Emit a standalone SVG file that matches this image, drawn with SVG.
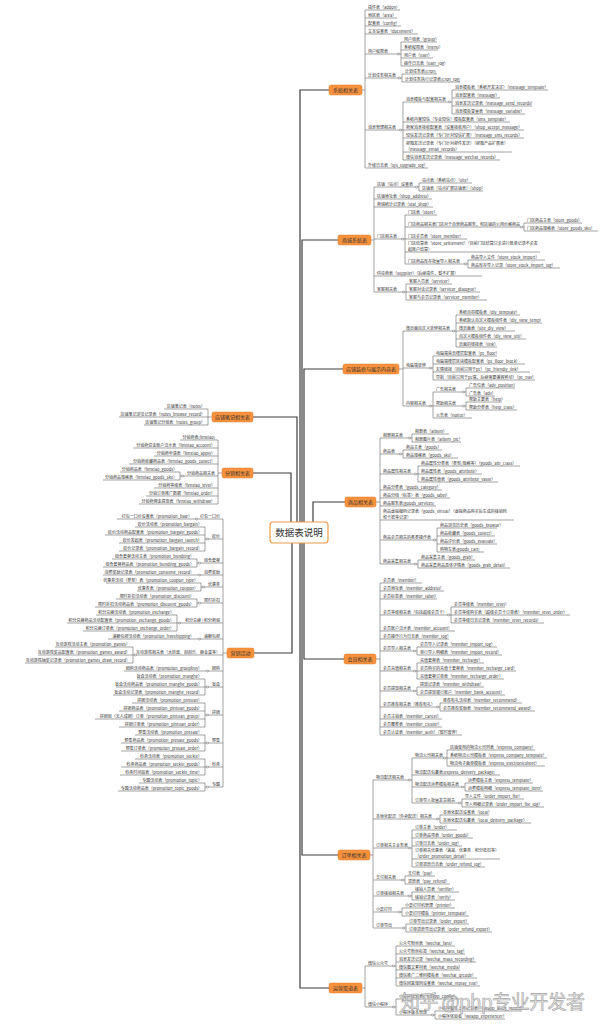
<svg xmlns="http://www.w3.org/2000/svg" width="600" height="1024" viewBox="0 0 600 1024">
<style>
.n text{font-family:"Noto Sans CJK SC","Noto Sans",sans-serif;font-size:4px;fill:#333}
.n path{fill:none;stroke:#666;stroke-width:.6}
.L text{text-anchor:end}
.k{fill:#fff;stroke:#888;stroke-width:.4}
.br{fill:none;stroke:#666;stroke-width:.6}
.m{fill:none;stroke:#3c3c3c;stroke-width:1.2}
.bx rect{fill:#F6913C;stroke:#E47F2C;stroke-width:.5}
.bx text{font-family:"Noto Sans CJK SC","Noto Sans",sans-serif;font-size:5px;fill:#333;text-anchor:middle}
.wm{font-family:"Noto Sans CJK SC","Noto Sans",sans-serif;font-size:19px;fill:#e4e4e4;stroke:#9a9a9a;stroke-width:.6;opacity:.9}
</style>
<rect width="600" height="1024" fill="#fff"/>
<g id="connectors">
<path class="m" d="M300 522V90H329M302 522V240H338M304 522V369H343M313 522V502H345M304 543V659H344M302 543V855H338M300 543V988H329M297 522V417H253M291 522V473H253M292 543V653H254"/>
<path class="br" d="M362 90H365M365 10V168M401 42V66M402 74V82M403 102V160M452 90V114
M371 240H374M374 187V292M419 183V191M405 215V264M524 223V231M468 260V268M406 284V300
M399 369H403M403 331V406M456 315V347M433 356V380M433 392V418M466 388V396M466 402V410
M376 502H380M380 438V564M412 434V442M403 450V458M418 466V482M437 528V552M418 560V568
M376 659H380M380 583V735M451 607V623M417 647V655M417 663V679M417 687V695M440 703V711
M370 855H373M373 780V928M412 758V803M447 750V766M465 783V791M462 799V807M440 815V823M412 830V867M405 876V884M412 892V900M402 908V916M406 924V932
M362 988H365M365 966V1007M396 946V986M396 999V1015M435 1011V1019
M212 417H208M208 409V425
M222 473H218M218 440V504M180 472V480
M227 653H223M223 519V787M205 527V551M197 559V567M201 583V591M197 599V607M177 615V631M133 647V663M205 679V695M205 703V727M205 735V751M205 759V775M205 783V791"/>
<g class="k">
<circle cx="398.5" cy="54" r="1.2"/><circle cx="399.5" cy="78" r="1.2"/><circle cx="400.5" cy="130" r="1.2"/><circle cx="449.5" cy="102" r="1.2"/>
<circle cx="416.5" cy="187" r="1.2"/><circle cx="402.5" cy="239" r="1.2"/><circle cx="521.5" cy="227" r="1.2"/><circle cx="465.5" cy="264" r="1.2"/><circle cx="403.5" cy="292" r="1.2"/>
<circle cx="453.5" cy="331" r="1.2"/><circle cx="430.5" cy="368" r="1.2"/><circle cx="430.5" cy="406" r="1.2"/><circle cx="463.5" cy="392" r="1.2"/><circle cx="463.5" cy="406" r="1.2"/>
<circle cx="409.5" cy="438" r="1.2"/><circle cx="400.5" cy="454" r="1.2"/><circle cx="415.5" cy="474" r="1.2"/><circle cx="434.5" cy="540" r="1.2"/><circle cx="415.5" cy="564" r="1.2"/>
<circle cx="448.5" cy="615" r="1.2"/><circle cx="414.5" cy="651" r="1.2"/><circle cx="414.5" cy="671" r="1.2"/><circle cx="414.5" cy="691" r="1.2"/><circle cx="437.5" cy="707" r="1.2"/>
<circle cx="409.5" cy="780" r="1.2"/><circle cx="444.5" cy="758" r="1.2"/><circle cx="462.5" cy="787" r="1.2"/><circle cx="459.5" cy="803" r="1.2"/><circle cx="437.5" cy="819" r="1.2"/><circle cx="409.5" cy="848" r="1.2"/><circle cx="402.5" cy="880" r="1.2"/><circle cx="409.5" cy="896" r="1.2"/><circle cx="399.5" cy="912" r="1.2"/><circle cx="403.5" cy="928" r="1.2"/>
<circle cx="393.5" cy="966" r="1.2"/><circle cx="393.5" cy="1007" r="1.2"/><circle cx="432.5" cy="1015" r="1.2"/>
<circle cx="182.5" cy="476" r="1.2"/>
<circle cx="196.5" cy="519" r="1.2"/><circle cx="207.5" cy="539" r="1.2"/><circle cx="199.5" cy="563" r="1.2"/><circle cx="199.5" cy="575" r="1.2"/><circle cx="203.5" cy="587" r="1.2"/><circle cx="199.5" cy="603" r="1.2"/><circle cx="179.5" cy="623" r="1.2"/><circle cx="199.5" cy="639" r="1.2"/><circle cx="135.5" cy="655" r="1.2"/><circle cx="207.5" cy="671" r="1.2"/><circle cx="207.5" cy="687" r="1.2"/><circle cx="207.5" cy="715" r="1.2"/><circle cx="207.5" cy="743" r="1.2"/><circle cx="207.5" cy="767" r="1.2"/><circle cx="207.5" cy="787" r="1.2"/>
</g>
</g>
<g id="center"><rect x="270" y="522" width="58" height="21" rx="3" fill="#fff" stroke="#EE9A4A" stroke-width="1.2"/><text x="299" y="535.8" font-family="Noto Sans CJK SC, Noto Sans, sans-serif" font-size="9.5" fill="#333" text-anchor="middle">数据表说明</text></g>
<g class="bx">
<g id="b_sys"><rect x="329" y="85" width="33" height="10" rx="2"/><text x="345.5" y="91.8">系统相关表</text></g>
<g id="b_mall"><rect x="338" y="235" width="33" height="10" rx="2"/><text x="354.5" y="241.8">商城系统表</text></g>
<g id="b_decor"><rect x="343" y="364" width="56" height="10" rx="2"/><text x="371" y="370.8">店铺装修与展示内容表</text></g>
<g id="b_goods"><rect x="345" y="497" width="31" height="10" rx="2"/><text x="360.5" y="503.8">商品相关表</text></g>
<g id="b_member"><rect x="344" y="654" width="32" height="10" rx="2"/><text x="360" y="660.8">会员相关表</text></g>
<g id="b_order"><rect x="338" y="850" width="32" height="10" rx="2"/><text x="354" y="856.8">订单相关表</text></g>
<g id="b_ops"><rect x="329" y="983" width="33" height="10" rx="2"/><text x="345.5" y="989.8">运营渠道表</text></g>
<g id="b_notes"><rect x="212" y="412" width="41" height="10" rx="2"/><text x="232.5" y="418.8">店铺笔记相关表</text></g>
<g id="b_fenxiao"><rect x="222" y="468" width="31" height="10" rx="2"/><text x="237.5" y="474.8">分销相关表</text></g>
<g id="b_promo"><rect x="227" y="648" width="27" height="10" rx="2"/><text x="240.5" y="654.8">营销活动</text></g>
</g>
<g class="n">
<g id="addon"><text x="368" y="8.8">插件表（addon）</text><path d="M365 10H400"/></g>
<g id="area"><text x="368" y="16.8">地区表（area）</text><path d="M365 18H397"/></g>
<g id="config"><text x="368" y="24.8">配置表（config）</text><path d="M365 26H401"/></g>
<g id="document"><text x="368" y="32.8">文本设置表（document）</text><path d="M365 34H418"/></g>
<g id="auth_rel"><text x="368" y="52.8">用户权限表</text><path d="M365 54H401"/></g>
<g id="group"><text x="404" y="40.8">用户组表（group）</text><path d="M401 42H437"/></g>
<g id="menu"><text x="404" y="48.8">系统权限表（menu）</text><path d="M401 50H438"/></g>
<g id="user"><text x="404" y="56.8">用户表（user）</text><path d="M401 58H433"/></g>
<g id="user_log"><text x="404" y="64.8">操作日志表（user_log）</text><path d="M401 66H439"/></g>
<g id="cron_rel"><text x="368" y="76.8">计划任务相关表</text><path d="M365 78H402"/></g>
<g id="cron"><text x="405" y="72.8">计划任务表(cron)</text><path d="M402 74H437"/></g>
<g id="cron_log"><text x="405" y="80.8">计划任务执行记录表(cron_log)</text><path d="M402 82H460"/></g>
<g id="msg_rel"><text x="368" y="128.8">消息管理相关表</text><path d="M365 130H403"/></g>
<g id="msg_tpl_rel"><text x="406" y="100.8">消息模板与配置相关表</text><path d="M403 102H452"/></g>
<g id="message_template"><text x="455" y="88.8">消息模板表（系统开发决定）（message_template）</text><path d="M452 90H548"/></g>
<g id="message"><text x="455" y="96.8">消息配置表（message）</text><path d="M452 98H500"/></g>
<g id="message_send_records"><text x="455" y="104.8">消息发送记录表（message_send_records）</text><path d="M452 106H532"/></g>
<g id="message_variable"><text x="455" y="112.8">消息模板变量表（message_variable）</text><path d="M452 114H525"/></g>
<g id="sms_template"><text x="406" y="120.8">系统内置短信（专业短信）模板配置表（sms_template）</text><path d="M403 122H510"/></g>
<g id="shop_accept_message"><text x="406" y="128.8">商家消息接收配置表（设置接收用户）（shop_accept_message）</text><path d="M403 130H524"/></g>
<g id="message_sms_records"><text x="406" y="136.8">短信发送记录表（专门针对短信扩展）（message_sms_records）</text><path d="M403 138H524"/></g>
<g id="message_email_records"><text x="406" y="144.8">邮箱发送记录表（专门针对邮件发送）（邮箱产品扩展表）</text><text x="406" y="150.8">（message_email_records）</text><path d="M403 152H512"/></g>
<g id="message_wechat_records"><text x="406" y="158.8">微信消息发送记录表（message_wechat_records）</text><path d="M403 160H500"/></g>
<g id="sys_upgrade_log"><text x="368" y="166.8">升级日志表（sys_upgrade_log）</text><path d="M365 168H428"/></g>

<g id="shop_set"><text x="377" y="185.8">店铺（站点）设置表</text><path d="M374 187H419"/></g>
<g id="site"><text x="422" y="181.8">站点表（系统站点）（site）</text><path d="M419 183H472"/></g>
<g id="shop"><text x="422" y="189.8">店铺表（站点扩展店铺表）（shop）</text><path d="M419 191H483"/></g>
<g id="shop_address"><text x="377" y="197.8">店铺地址表（shop_address）</text><path d="M374 199H432"/></g>
<g id="stat_shop"><text x="377" y="205.8">商城统计记录表（stat_shop）</text><path d="M374 207H433"/></g>
<g id="store_rel"><text x="377" y="237.8">门店相关表</text><path d="M374 239H405"/></g>
<g id="store"><text x="408" y="213.8">门店表（store）</text><path d="M405 215H437"/></g>
<g id="store_goods_rel"><text x="408" y="225.8">门店商品相关表门店对于自营商品服务，和店铺的公用价格商品</text><path d="M405 227H524"/></g>
<g id="store_goods"><text x="527" y="221.8">门店商品主表（store_goods）</text><path d="M524 223H582"/></g>
<g id="store_goods_sku"><text x="527" y="229.8">门店商品规格表（store_goods_sku）</text><path d="M524 231H598"/></g>
<g id="store_member"><text x="408" y="237.8">门店会员表（store_member）</text><path d="M405 239H467"/></g>
<g id="store_settlement"><text x="408" y="244.8">门店结算表（store_settlement）（目前门店结算只会进行账单记录不会发</text><text x="408" y="250.8">起账户结算）</text><path d="M405 252H540"/></g>
<g id="stock_import_rel"><text x="408" y="262.8">门店商品库存批量导入相关表</text><path d="M405 264H468"/></g>
<g id="store_stock_import"><text x="471" y="258.8">商品导入文件（store_stock_import）</text><path d="M468 260H545"/></g>
<g id="store_stock_import_log"><text x="471" y="266.8">商品库存导入记录（store_stock_import_log）</text><path d="M468 268H560"/></g>
<g id="supplier"><text x="377" y="274.8">供应商表（supplier）（后续插件，暂不扩展）</text><path d="M374 276H482"/></g>
<g id="service_rel"><text x="377" y="290.8">客服相关表</text><path d="M374 292H406"/></g>
<g id="servicer"><text x="409" y="282.8">客服人员表（servicer）</text><path d="M406 284H452"/></g>
<g id="servicer_dialogue"><text x="409" y="290.8">客服对话记录表（servicer_dialogue）</text><path d="M406 292H480"/></g>
<g id="servicer_member"><text x="409" y="298.8">客服与会员记录表（servicer_member）</text><path d="M406 300H487"/></g>

<g id="diy_rel"><text x="406" y="329.8">微页面自定义装修相关表</text><path d="M403 331H456"/></g>
<g id="diy_template"><text x="459" y="313.8">系统自带模板表（diy_template）</text><path d="M456 315H520"/></g>
<g id="diy_view_temp"><text x="459" y="321.8">系统默认自定义模板组件表（diy_view_temp）</text><path d="M456 323H542"/></g>
<g id="site_diy_view"><text x="459" y="329.8">微页面表（site_diy_view）</text><path d="M456 331H515"/></g>
<g id="diy_view_util"><text x="459" y="337.8">自定义模板组件表（diy_view_util）</text><path d="M456 339H526"/></g>
<g id="link"><text x="459" y="345.8">页面的链接表（link）</text><path d="M456 347H497"/></g>
<g id="pc_rel"><text x="406" y="366.8">电脑端装修</text><path d="M403 368H433"/></g>
<g id="pc_floor"><text x="436" y="354.8">电脑端首页楼层配置表（pc_floor）</text><path d="M433 356H497"/></g>
<g id="pc_floor_block"><text x="436" y="362.8">电脑端楼层区块模板配置表（pc_floor_block）</text><path d="M433 364H525"/></g>
<g id="pc_friendly_link"><text x="436" y="370.8">友情链接（目前只用于pc）（pc_friendly_link）</text><path d="M433 372H530"/></g>
<g id="pc_nav"><text x="436" y="378.8">导航（目前只用于pc端，后续需要兼容移动）（pc_nav）</text><path d="M433 380H535"/></g>
<g id="content_rel"><text x="406" y="404.8">内容相关表</text><path d="M403 406H433"/></g>
<g id="adv_rel"><text x="436" y="390.8">广告相关表</text><path d="M433 392H466"/></g>
<g id="adv_position"><text x="469" y="386.8">广告位表（adv_position）</text><path d="M466 388H515"/></g>
<g id="adv"><text x="469" y="394.8">广告表（adv）</text><path d="M466 396H495"/></g>
<g id="help_rel"><text x="436" y="404.8">帮助相关表</text><path d="M433 406H466"/></g>
<g id="help"><text x="469" y="400.8">帮助主要表（help）</text><path d="M466 402H502"/></g>
<g id="help_class"><text x="469" y="408.8">帮助分类表（help_class）</text><path d="M466 410H517"/></g>
<g id="notice"><text x="436" y="416.8">公告表（notice）</text><path d="M433 418H472"/></g>

<g id="album_rel"><text x="383" y="436.8">相册相关表</text><path d="M380 438H412"/></g>
<g id="album"><text x="415" y="432.8">相册表（album）</text><path d="M412 434H449"/></g>
<g id="album_pic"><text x="415" y="440.8">相册图片表（album_pic）</text><path d="M412 442H461"/></g>
<g id="goods_rel"><text x="383" y="452.8">商品表</text><path d="M380 454H403"/></g>
<g id="goods"><text x="406" y="448.8">商品主表（goods）</text><path d="M403 450H442"/></g>
<g id="goods_sku"><text x="406" y="456.8">商品规格表（goods_sku）</text><path d="M403 458H458"/></g>
<g id="attr_rel"><text x="383" y="472.8">商品属性相关表</text><path d="M380 474H418"/></g>
<g id="goods_attr_class"><text x="421" y="464.8">商品属性分类表（类型/规格等）（goods_attr_class）</text><path d="M418 466H520"/></g>
<g id="goods_attribute"><text x="421" y="472.8">商品属性表（goods_attribute）</text><path d="M418 474H482"/></g>
<g id="goods_attribute_value"><text x="421" y="480.8">商品属性值表（goods_attribute_value）</text><path d="M418 482H498"/></g>
<g id="goods_category"><text x="383" y="488.8">商品分类表（goods_category）</text><path d="M380 490H442"/></g>
<g id="goods_label"><text x="383" y="496.8">商品分组（标签）表（goods_label）</text><path d="M380 498H450"/></g>
<g id="goods_services"><text x="383" y="504.8">商品服务表(goods_services)</text><path d="M380 506H436"/></g>
<g id="goods_virtual"><text x="383" y="512.8">商品虚拟编码记录表（goods_virtual）（虚拟商品购买后生成的核销码</text><text x="383" y="518.8">和卡密等记录）</text><path d="M380 520H514"/></g>
<g id="member_op_rel"><text x="383" y="538.8">商品会员相关的各类操作表</text><path d="M380 540H437"/></g>
<g id="goods_browse"><text x="440" y="526.8">商品浏览历史表（goods_browse）</text><path d="M437 528H497"/></g>
<g id="goods_collect"><text x="440" y="534.8">商品收藏表（goods_collect）</text><path d="M437 536H495"/></g>
<g id="goods_evaluate"><text x="440" y="542.8">商品评价表（goods_evaluate）</text><path d="M437 544H497"/></g>
<g id="goods_cart"><text x="440" y="550.8">购物车表(goods_cart)</text><path d="M437 552H484"/></g>
<g id="grab_rel"><text x="383" y="562.8">商品采集相关表</text><path d="M380 564H418"/></g>
<g id="goods_grab"><text x="421" y="558.8">商品采集主表（goods_grab）</text><path d="M418 560H475"/></g>
<g id="goods_grab_detail"><text x="421" y="566.8">商品采集商品具体详情表（goods_grab_detail）</text><path d="M418 568H510"/></g>

<g id="member"><text x="383" y="581.8">会员表（member）</text><path d="M380 583H422"/></g>
<g id="member_address"><text x="383" y="589.8">会员地址表（member_address）</text><path d="M380 591H444"/></g>
<g id="member_label"><text x="383" y="597.8">会员标签表（member_label）</text><path d="M380 599H437"/></g>
<g id="level_rel"><text x="383" y="613.8">会员等级相关表（包括超级会员卡）</text><path d="M380 615H451"/></g>
<g id="member_level"><text x="454" y="605.8">会员等级表（member_level）</text><path d="M451 607H505"/></g>
<g id="member_level_order"><text x="454" y="613.8">会员等级购买表（超级会员卡订单表）（member_level_order）</text><path d="M451 615H570"/></g>
<g id="member_level_records"><text x="454" y="621.8">会员等级日志记录表（member_level_records）</text><path d="M451 623H544"/></g>
<g id="member_account"><text x="383" y="629.8">会员账户流水表（member_account）</text><path d="M380 631H455"/></g>
<g id="member_log"><text x="383" y="637.8">会员操作行为日志表（member_log）</text><path d="M380 639H449"/></g>
<g id="import_rel"><text x="383" y="649.8">会员导入相关表</text><path d="M380 651H417"/></g>
<g id="member_import_log"><text x="420" y="645.8">会员导入记录表（member_import_log）</text><path d="M417 647H497"/></g>
<g id="member_import_record"><text x="420" y="653.8">单行导入明细表（member_import_record）</text><path d="M417 655H502"/></g>
<g id="recharge_rel"><text x="383" y="669.8">会员充值相关表</text><path d="M380 671H417"/></g>
<g id="member_recharge"><text x="420" y="661.8">充值套餐表（member_recharge）</text><path d="M417 663H484"/></g>
<g id="member_recharge_card"><text x="420" y="669.8">会员购买的充值卡套餐表（member_recharge_card）</text><path d="M417 671H516"/></g>
<g id="member_recharge_order"><text x="420" y="677.8">充值套餐订单表（member_recharge_order）</text><path d="M417 679H504"/></g>
<g id="withdraw_rel"><text x="383" y="689.8">会员提现相关表</text><path d="M380 691H417"/></g>
<g id="member_withdraw"><text x="420" y="685.8">提现记录表（member_withdraw）</text><path d="M417 687H484"/></g>
<g id="member_bank_account"><text x="420" y="693.8">会员提现银行账户（member_bank_account）</text><path d="M417 695H505"/></g>
<g id="recommend_rel"><text x="383" y="705.8">会员推荐相关表（推荐有礼）</text><path d="M380 707H440"/></g>
<g id="member_recommend"><text x="443" y="701.8">推荐有礼活动表（member_recommend）</text><path d="M440 703H522"/></g>
<g id="member_recommend_award"><text x="443" y="709.8">会员推荐奖励表（member_recommend_award）</text><path d="M440 711H535"/></g>
<g id="member_cancel"><text x="383" y="717.8">会员注销表（member_cancel）</text><path d="M380 719H442"/></g>
<g id="member_cluster"><text x="383" y="725.8">会员聚类表（member_cluster）</text><path d="M380 727H442"/></g>
<g id="member_auth"><text x="383" y="733.8">会员认证表（member_auth）（暂时废弃）</text><path d="M380 735H462"/></g>

<g id="logistics_rel"><text x="376" y="778.8">物流配送相关表</text><path d="M373 780H412"/></g>
<g id="company_rel"><text x="415" y="756.8">物流公司相关表</text><path d="M412 758H447"/></g>
<g id="express_company"><text x="450" y="748.8">店铺使用的物流公司列表（express_company）</text><path d="M447 750H535"/></g>
<g id="express_company_template"><text x="450" y="756.8">系统物流公司模板表（express_company_template）</text><path d="M447 758H547"/></g>
<g id="express_electronicsheet"><text x="450" y="764.8">物流电子面单模板表（express_electronicsheet）</text><path d="M447 766H545"/></g>
<g id="express_delivery_package"><text x="415" y="773.8">物流配送包裹表(express_delivery_package)</text><path d="M412 775H500"/></g>
<g id="tpl_rel"><text x="415" y="785.8">物流配送运费模板相关表</text><path d="M412 787H465"/></g>
<g id="express_template"><text x="468" y="781.8">运费模板主表（express_template）</text><path d="M465 783H533"/></g>
<g id="express_template_item"><text x="468" y="789.8">运费模板明细（express_template_item）</text><path d="M465 791H543"/></g>
<g id="order_import_rel"><text x="415" y="801.8">订单导入批量发货相关</text><path d="M412 803H462"/></g>
<g id="order_import_file"><text x="465" y="797.8">导入文件（order_import_file）</text><path d="M462 799H524"/></g>
<g id="order_import_file_log"><text x="465" y="805.8">导入明细记录表（order_import_file_log）</text><path d="M462 807H544"/></g>
<g id="local_rel"><text x="376" y="817.8">本地化配送（外卖配送）相关表</text><path d="M373 819H440"/></g>
<g id="local"><text x="443" y="813.8">本地化配送设置表（local）</text><path d="M440 815H489"/></g>
<g id="local_delivery_package"><text x="443" y="821.8">本地化配送包裹表（local_delivery_package）</text><path d="M440 823H531"/></g>
<g id="order_rel"><text x="376" y="846.8">订单相关主业务表</text><path d="M373 848H412"/></g>
<g id="order"><text x="415" y="828.8">订单主表（order）</text><path d="M412 830H457"/></g>
<g id="order_goods"><text x="415" y="836.8">订单商品项表（order_goods）</text><path d="M412 838H473"/></g>
<g id="order_log"><text x="415" y="844.8">订单日志表（order_log）</text><path d="M412 846H462"/></g>
<g id="order_promotion_detail"><text x="415" y="851.8">订单相关优惠表（满减、优惠券、积分抵扣等）</text><text x="415" y="857.8">（order_promotion_detail）</text><path d="M412 859H500"/></g>
<g id="order_refund_log"><text x="415" y="865.8">订单退款日志表（order_refund_log）</text><path d="M412 867H485"/></g>
<g id="pay_rel"><text x="376" y="878.8">支付相关表</text><path d="M373 880H405"/></g>
<g id="pay"><text x="408" y="874.8">支付表（pay）</text><path d="M405 876H435"/></g>
<g id="pay_refund"><text x="408" y="882.8">退款表（pay_refund）</text><path d="M405 884H450"/></g>
<g id="verify_rel"><text x="376" y="894.8">订单核销相关表</text><path d="M373 896H412"/></g>
<g id="verifier"><text x="415" y="890.8">核销人员表（verifier）</text><path d="M412 892H459"/></g>
<g id="verify"><text x="415" y="898.8">核销记录表（verify）</text><path d="M412 900H455"/></g>
<g id="printer_rel"><text x="376" y="910.8">小票打印</text><path d="M373 912H402"/></g>
<g id="printer"><text x="405" y="906.8">小票打印机管理（printer）</text><path d="M402 908H455"/></g>
<g id="printer_template"><text x="405" y="914.8">小票打印模板（printer_template）</text><path d="M402 916H469"/></g>
<g id="export_rel"><text x="376" y="926.8">订单导出</text><path d="M373 928H406"/></g>
<g id="order_export"><text x="409" y="922.8">订单导出记录表（order_export）</text><path d="M406 924H469"/></g>
<g id="order_refund_export"><text x="409" y="930.8">订单退款导出记录表（order_refund_export）</text><path d="M406 932H492"/></g>

<g id="wechat_rel"><text x="368" y="964.8">微信公众号</text><path d="M365 966H396"/></g>
<g id="wechat_fans"><text x="399" y="944.8">公众号粉丝表（wechat_fans）</text><path d="M396 946H455"/></g>
<g id="wechat_fans_tag"><text x="399" y="952.8">公众号粉丝标签（wechat_fans_tag）</text><path d="M396 954H465"/></g>
<g id="wechat_mass_recording"><text x="399" y="960.8">消息发送记录（wechat_mass_recording）</text><path d="M396 962H476"/></g>
<g id="wechat_media"><text x="399" y="968.8">微信图文素材表（wechat_media）</text><path d="M396 970H460"/></g>
<g id="wechat_qrcode"><text x="399" y="976.8">微信推广二维码模板表（wechat_qrcode）</text><path d="M396 978H477"/></g>
<g id="wechat_replay_rule"><text x="399" y="984.8">微信回复规则设置表（wechat_replay_rule）</text><path d="M396 986H480"/></g>
<g id="weapp_rel"><text x="368" y="1005.8">微信小程序</text><path d="M365 1007H396"/></g>
<g id="weapp_config"><text x="399" y="997.8">小程序配置表（weapp_config）</text><path d="M396 999H460"/></g>
<g id="weapp_version_rel"><text x="399" y="1013.8">小程序版本管理</text><path d="M396 1015H435"/></g>
<g id="weapp_audit_record"><text x="438" y="1009.8">小程序版本上传记录表（weapp_audit_record）</text><path d="M435 1011H522"/></g>
<g id="weapp_experiencer"><text x="438" y="1017.8">小程序体验者（weapp_experiencer）</text><path d="M435 1019H505"/></g>
</g>

<g class="n L">
<g id="notes"><text x="205" y="407.8">店铺笔记表（notes）</text><path d="M164 409H208"/></g>
<g id="notes_browse_record"><text x="205" y="415.8">店铺笔记浏览记录表（notes_browse_record）</text><path d="M119 417H208"/></g>
<g id="notes_group"><text x="205" y="423.8">店铺笔记分组表（notes_group）</text><path d="M144 425H208"/></g>

<g id="fenxiao"><text x="215" y="438.8">分销商表(fenxiao)</text><path d="M180 440H218"/></g>
<g id="fenxiao_account"><text x="215" y="446.8">分销商资金账户流水表（fenxiao_account）</text><path d="M133 448H218"/></g>
<g id="fenxiao_apply"><text x="215" y="454.8">分销商申请表（fenxiao_apply）</text><path d="M154 456H218"/></g>
<g id="fenxiao_goods_collect"><text x="215" y="462.8">分销商收藏商品表（fenxiao_goods_collect）</text><path d="M129 464H218"/></g>
<g id="fenxiao_goods_rel"><text x="215" y="474.8">分销商品相关表</text><path d="M180 476H218"/></g>
<g id="fenxiao_goods"><text x="177" y="470.8">分销商品表（fenxiao_goods）</text><path d="M120 472H180"/></g>
<g id="fenxiao_goods_sku"><text x="177" y="478.8">分销商品规格表（fenxiao_goods_sku）</text><path d="M103 480H180"/></g>
<g id="fenxiao_level"><text x="215" y="486.8">分销商等级表（fenxiao_level）</text><path d="M154 488H218"/></g>
<g id="fenxiao_order"><text x="215" y="494.8">分销订单推广数据（fenxiao_order）</text><path d="M146 496H218"/></g>
<g id="fenxiao_withdraw"><text x="215" y="502.8">分销商佣金提现表（fenxiao_withdraw）</text><path d="M139 504H218"/></g>

<g id="bale_rel"><text x="220" y="517.8">打包一口价</text><path d="M196 519H223"/></g>
<g id="promotion_bale"><text x="192" y="517.8">打包一口价设置表（promotion_bale）</text><path d="M117 519H196"/></g>
<g id="bargain_rel"><text x="220" y="537.8">砍价</text><path d="M205 539H223"/></g>
<g id="promotion_bargain"><text x="202" y="525.8">砍价活动表（promotion_bargain）</text><path d="M135 527H205"/></g>
<g id="promotion_bargain_goods"><text x="202" y="533.8">砍价活动商品配置表（promotion_bargain_goods）</text><path d="M105 535H205"/></g>
<g id="promotion_bargain_launch"><text x="202" y="541.8">砍价发起表（promotion_bargain_launch）</text><path d="M119 543H205"/></g>
<g id="promotion_bargain_record"><text x="202" y="549.8">砍价记录表（promotion_bargain_record）</text><path d="M119 551H205"/></g>
<g id="bundling_rel"><text x="220" y="561.8">组合套餐</text><path d="M197 563H223"/></g>
<g id="promotion_bundling"><text x="194" y="557.8">组合套餐活动主表（promotion_bundling）</text><path d="M112 559H197"/></g>
<g id="promotion_bundling_goods"><text x="194" y="565.8">组合套餐商品表（promotion_bundling_goods）</text><path d="M103 567H197"/></g>
<g id="consume_rel"><text x="220" y="573.8">消费奖励</text><path d="M197 575H223"/></g>
<g id="promotion_consume_record"><text x="194" y="573.8">消费奖励记录表（promotion_consume_record）</text><path d="M103 575H197"/></g>
<g id="coupon_rel"><text x="220" y="585.8">优惠券</text><path d="M201 587H223"/></g>
<g id="promotion_coupon_type"><text x="198" y="581.8">优惠券活动（类型）表（promotion_coupon_type）</text><path d="M106 583H201"/></g>
<g id="promotion_coupon"><text x="198" y="589.8">优惠券表（promotion_coupon）</text><path d="M137 591H201"/></g>
<g id="discount_rel"><text x="220" y="601.8">限时折扣</text><path d="M197 603H223"/></g>
<g id="promotion_discount"><text x="194" y="597.8">限时折扣活动表（promotion_discount）</text><path d="M116 599H197"/></g>
<g id="promotion_discount_goods"><text x="194" y="605.8">限时折扣活动商品表（promotion_discount_goods）</text><path d="M95 607H197"/></g>
<g id="exchange_rel"><text x="220" y="621.8">积分兑换 | 积分商城</text><path d="M177 623H223"/></g>
<g id="promotion_exchange"><text x="174" y="613.8">积分兑换活动表（promotion_exchange）</text><path d="M96 615H177"/></g>
<g id="promotion_exchange_goods"><text x="174" y="621.8">积分兑换商品活动配置表（promotion_exchange_goods）</text><path d="M67 623H177"/></g>
<g id="promotion_exchange_order"><text x="174" y="629.8">积分兑换订单表（promotion_exchange_order）</text><path d="M83 631H177"/></g>
<g id="freeshipping_rel"><text x="220" y="637.8">满额包邮</text><path d="M197 639H223"/></g>
<g id="promotion_freeshipping"><text x="194" y="637.8">满额包邮活动表（promotion_freeshipping）</text><path d="M108 639H197"/></g>
<g id="games_rel"><text x="220" y="653.8">互动游戏相关表（大转盘、刮刮乐、砸金蛋等）</text><path d="M133 655H223"/></g>
<g id="promotion_games"><text x="130" y="645.8">互动游戏活动主表（promotion_games）</text><path d="M55 647H133"/></g>
<g id="promotion_games_award"><text x="130" y="653.8">互动游戏奖品配置表（promotion_games_award）</text><path d="M38 655H133"/></g>
<g id="promotion_games_draw_record"><text x="130" y="661.8">互动游戏抽奖记录表（promotion_games_draw_record）</text><path d="M25 663H133"/></g>
<g id="groupbuy_rel"><text x="220" y="669.8">团购</text><path d="M205 671H223"/></g>
<g id="promotion_groupbuy"><text x="202" y="669.8">团购活动商品表（promotion_groupbuy）</text><path d="M124 671H205"/></g>
<g id="manghe_rel"><text x="220" y="685.8">盲盒</text><path d="M205 687H223"/></g>
<g id="promotion_manghe"><text x="202" y="677.8">盲盒活动表（promotion_manghe）</text><path d="M137 679H205"/></g>
<g id="promotion_manghe_goods"><text x="202" y="685.8">盲盒活动商品表（promotion_manghe_goods）</text><path d="M116 687H205"/></g>
<g id="promotion_manghe_record"><text x="202" y="693.8">盲盒活动记录表（promotion_manghe_record）</text><path d="M113 695H205"/></g>
<g id="pintuan_rel"><text x="220" y="713.8">拼团</text><path d="M205 715H223"/></g>
<g id="promotion_pintuan"><text x="202" y="701.8">拼团活动表（promotion_pintuan）</text><path d="M132 703H205"/></g>
<g id="promotion_pintuan_goods"><text x="202" y="709.8">拼团商品表（promotion_pintuan_goods）</text><path d="M119 711H205"/></g>
<g id="promotion_pintuan_group"><text x="202" y="717.8">拼团组（无人成团）订单（promotion_pintuan_group）</text><path d="M95 719H205"/></g>
<g id="promotion_pintuan_order"><text x="202" y="725.8">拼团订单表（promotion_pintuan_order）</text><path d="M119 727H205"/></g>
<g id="presale_rel"><text x="220" y="741.8">预售</text><path d="M205 743H223"/></g>
<g id="promotion_presale"><text x="202" y="733.8">预售活动表（promotion_presale）</text><path d="M135 735H205"/></g>
<g id="promotion_presale_goods"><text x="202" y="741.8">预售商品表（promotion_presale_goods）</text><path d="M121 743H205"/></g>
<g id="promotion_presale_order"><text x="202" y="749.8">预售订单表（promotion_presale_order）</text><path d="M121 751H205"/></g>
<g id="seckill_rel"><text x="220" y="765.8">秒杀</text><path d="M205 767H223"/></g>
<g id="promotion_seckill"><text x="202" y="757.8">秒杀活动表（promotion_seckill）</text><path d="M135 759H205"/></g>
<g id="promotion_seckill_goods"><text x="202" y="765.8">秒杀商品表（promotion_seckill_goods）</text><path d="M121 767H205"/></g>
<g id="promotion_seckill_time"><text x="202" y="773.8">秒杀时间段表（promotion_seckill_time）</text><path d="M120 775H205"/></g>
<g id="topic_rel"><text x="220" y="785.8">专题</text><path d="M205 787H223"/></g>
<g id="promotion_topic"><text x="202" y="781.8">专题活动表（promotion_topic）</text><path d="M139 783H205"/></g>
<g id="promotion_topic_goods"><text x="202" y="789.8">专题活动商品表（promotion_topic_goods）</text><path d="M118 791H205"/></g>
</g>
<text class="wm" x="401" y="1009" textLength="184">知乎 @php专业开发者</text>
</svg>
